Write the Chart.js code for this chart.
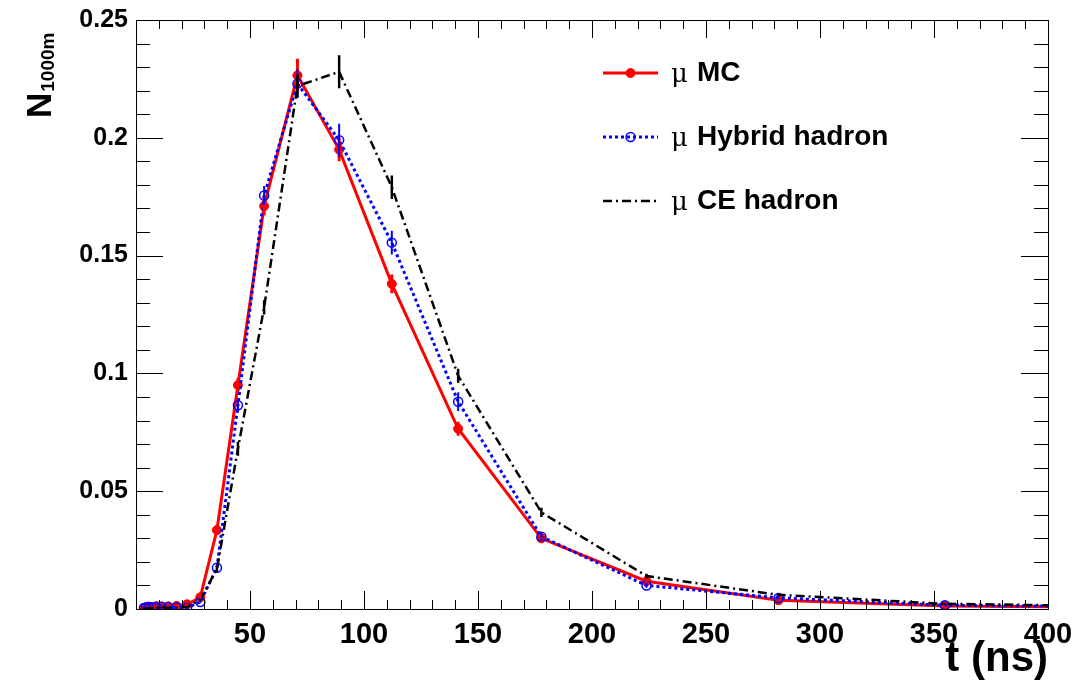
<!DOCTYPE html>
<html>
<head>
<meta charset="utf-8">
<script src="https://cdn.jsdelivr.net/npm/chart.js@4.4.1/dist/chart.umd.min.js"></script>
<style>
html,body{margin:0;padding:0;background:#fff;}
#wrap{width:1077px;height:683px;}
</style>
</head>
<body>
<div id="wrap"><canvas id="c" width="1077" height="683"></canvas></div>
<script>
// ---- data ----
const tBins = [3.5, 4.5, 5.6, 7.1, 8.9, 11.2, 14.1, 17.8, 22.4, 28.2, 35.5, 44.7, 56.2, 70.8, 89.1, 112.2, 141.3, 177.8, 223.9, 281.8, 354.8, 446.7];
const muMC      = [0.0005, 0.0008, 0.0010, 0.0009, 0.0012, 0.0010, 0.0011, 0.0013, 0.0020, 0.0050, 0.0335, 0.0950, 0.1710, 0.2265, 0.1950, 0.1380, 0.0765, 0.0300, 0.0118, 0.0037, 0.0013, 0.0006];
const muMCErr   = [0.0003, 0.0003, 0.0003, 0.0003, 0.0003, 0.0003, 0.0003, 0.0003, 0.0004, 0.0008, 0.0020, 0.0030, 0.0040, 0.0070, 0.0050, 0.0040, 0.0030, 0.0020, 0.0010, 0.0006, 0.0004, 0.0003];
const muHybrid  = [0.0004, 0.0006, 0.0008, 0.0006, 0.0008, 0.0010, 0.0008, 0.0006, 0.0005, 0.0030, 0.0175, 0.0865, 0.1755, 0.2230, 0.1990, 0.1555, 0.0880, 0.0307, 0.0100, 0.0047, 0.0016, 0.0008];
const muHybridErr = [0.0003, 0.0003, 0.0003, 0.0003, 0.0003, 0.0003, 0.0003, 0.0003, 0.0003, 0.0006, 0.0015, 0.0030, 0.0040, 0.0060, 0.0070, 0.0050, 0.0040, 0.0020, 0.0010, 0.0006, 0.0004, 0.0003];
const muCE      = [0.0003, 0.0004, 0.0005, 0.0005, 0.0006, 0.0006, 0.0006, 0.0007, 0.0008, 0.0040, 0.0170, 0.0680, 0.1280, 0.2220, 0.2280, 0.1790, 0.0990, 0.0410, 0.0140, 0.0060, 0.0022, 0.0010];
const muCEErr   = [0.0002, 0.0002, 0.0002, 0.0002, 0.0002, 0.0002, 0.0002, 0.0002, 0.0002, 0.0005, 0.0015, 0.0030, 0.0030, 0.0050, 0.0070, 0.0050, 0.0030, 0.0020, 0.0010, 0.0005, 0.0003, 0.0002];
const seriesNames = ['MC', 'Hybrid hadron', 'CE hadron'];
const xTickStep = 50, xMinorStep = 10, xMin = 0, xMax = 400;
const yTickStep = 0.05, yMinorStep = 0.01, yMin = 0, yMax = 0.25;

const toXY = (arr) => tBins.map((t, i) => ({x: t, y: arr[i]}));

const FONT = "'Liberation Sans', Arial, Helvetica, sans-serif";

const datasets = [
  {label: seriesNames[0], data: toXY(muMC), errors: muMCErr,
   borderColor: '#ff0000', backgroundColor: '#ff0000', borderWidth: 3,
   pointRadius: 4.5, pointBackgroundColor: '#ff0000', pointBorderColor: '#ff0000', pointBorderWidth: 1,
   errWidth: 3, order: 3},
  {label: seriesNames[1], data: toXY(muHybrid), errors: muHybridErr,
   borderColor: '#0000ff', backgroundColor: '#0000ff', borderWidth: 3, borderDash: [3, 3],
   pointRadius: 4.5, pointBackgroundColor: 'rgba(0,0,0,0)', pointBorderColor: '#0000ff', pointBorderWidth: 1.5,
   errWidth: 2, order: 2},
  {label: seriesNames[2], data: toXY(muCE), errors: muCEErr,
   borderColor: '#000000', backgroundColor: '#000000', borderWidth: 2.5, borderDash: [9, 4, 2, 4],
   pointRadius: 0, errWidth: 2.5, order: 1}
];

// frame, inner ticks, error bars, legend, y-axis title
const decorations = {
  id: 'decorations',
  afterDatasetsDraw(chart) {
    const ctx = chart.ctx;
    const xs = chart.scales.x, ys = chart.scales.y;
    const a = chart.chartArea;
    ctx.save();
    // error bars
    chart.data.datasets.forEach((ds) => {
      if (!ds.errors) return;
      ctx.strokeStyle = ds.borderColor;
      ctx.lineWidth = ds.errWidth;
      ctx.setLineDash([]);
      ctx.beginPath();
      ds.data.forEach((p, i) => {
        if (p.x > xMax) return;
        const px = xs.getPixelForValue(p.x);
        ctx.moveTo(px, ys.getPixelForValue(p.y - ds.errors[i]));
        ctx.lineTo(px, ys.getPixelForValue(p.y + ds.errors[i]));
      });
      ctx.stroke();
    });
    // frame
    ctx.strokeStyle = '#000';
    ctx.lineWidth = 1;
    ctx.strokeRect(Math.round(a.left) + 0.5, Math.round(a.top) + 0.5, Math.round(a.right - a.left), Math.round(a.bottom - a.top));
    // x ticks (bottom & top)
    ctx.beginPath();
    for (let v = xMin; v <= xMax + 1e-9; v += xMinorStep) {
      const major = Math.abs(v / xTickStep - Math.round(v / xTickStep)) < 1e-6;
      const len = major ? 18 : 9;
      const px = Math.round(xs.getPixelForValue(v)) + 0.5;
      ctx.moveTo(px, a.bottom); ctx.lineTo(px, a.bottom - len);
      ctx.moveTo(px, a.top); ctx.lineTo(px, a.top + len);
    }
    // y ticks (left & right)
    for (let k = 0; k <= Math.round((yMax - yMin) / yMinorStep); k++) {
      const v = yMin + k * yMinorStep;
      const major = k % Math.round(yTickStep / yMinorStep) === 0;
      const len = major ? 27 : 14;
      const py = Math.round(ys.getPixelForValue(v)) + 0.5;
      ctx.moveTo(a.left, py); ctx.lineTo(a.left + len, py);
      ctx.moveTo(a.right, py); ctx.lineTo(a.right - len, py);
    }
    ctx.stroke();

    // legend
    const lx0 = 603, lx1 = 658, tx = 671;
    const rows = [73, 137, 201];
    chart.data.datasets.forEach((ds, i) => {
      const y = rows[i];
      ctx.strokeStyle = ds.borderColor;
      ctx.lineWidth = ds.borderWidth;
      ctx.setLineDash(ds.borderDash || []);
      ctx.beginPath(); ctx.moveTo(lx0, y); ctx.lineTo(lx1, y); ctx.stroke();
      ctx.setLineDash([]);
      if (ds.pointRadius > 0) {
        ctx.beginPath();
        ctx.arc((lx0 + lx1) / 2, y, ds.pointRadius, 0, Math.PI * 2);
        if (ds.pointBackgroundColor !== 'rgba(0,0,0,0)') { ctx.fillStyle = ds.pointBackgroundColor; ctx.fill(); }
        ctx.lineWidth = ds.pointBorderWidth; ctx.strokeStyle = ds.pointBorderColor; ctx.stroke();
      }
      ctx.fillStyle = '#000';
      ctx.textBaseline = 'middle';
      ctx.textAlign = 'left';
      ctx.font = "26px 'DejaVu Serif', serif";
      ctx.fillText('\u03bc', tx, y + 2);
      ctx.font = "bold 28px " + FONT;
      ctx.fillText(ds.label, tx + 26, y);
    });

    // y-axis title N_1000m
    ctx.save();
    ctx.translate(51, 118);
    ctx.rotate(-Math.PI / 2);
    ctx.textAlign = 'left';
    ctx.textBaseline = 'alphabetic';
    ctx.fillStyle = '#000';
    ctx.font = "bold 35px " + FONT;
    ctx.fillText('N', 0, 0);
    const nw = ctx.measureText('N').width;
    ctx.font = "bold 19px " + FONT;
    ctx.fillText('1000m', nw + 1, 3);
    ctx.restore();

    ctx.restore();
  }
};

new Chart(document.getElementById('c'), {
  type: 'line',
  data: {datasets},
  options: {
    responsive: false,
    animation: false,
    events: [],
    layout: {padding: {left: 0, right: 29, top: 20, bottom: 0}},
    plugins: {legend: {display: false}, tooltip: {enabled: false}},
    elements: {line: {tension: 0}},
    scales: {
      x: {
        type: 'linear', min: xMin, max: xMax,
        grid: {display: false, drawTicks: false},
        border: {display: false},
        ticks: {stepSize: xTickStep, autoSkip: false, maxRotation: 0, padding: 9, color: '#000',
                font: {family: FONT, weight: 'bold', size: 29},
                callback: (v) => (v === 0 ? '' : String(v))},
        title: {display: true, text: 't (ns)', align: 'end', color: '#000',
                font: {family: FONT, weight: 'bold', size: 42, lineHeight: 1.1}, padding: 0},
        afterFit: (s) => { s.height = 74; s.paddingLeft = 0; s.paddingRight = 0; }
      },
      y: {
        type: 'linear', min: yMin, max: yMax,
        grid: {display: false, drawTicks: false},
        border: {display: false},
        ticks: {stepSize: yTickStep, autoSkip: false, padding: 8, color: '#000',
                font: {family: FONT, weight: 'bold', size: 25},
                callback: (v) => String(+v.toFixed(2))},
        afterFit: (s) => { s.width = 136; s.paddingTop = 0; s.paddingBottom = 0; }
      }
    }
  },
  plugins: [decorations]
});
</script>
</body>
</html>
